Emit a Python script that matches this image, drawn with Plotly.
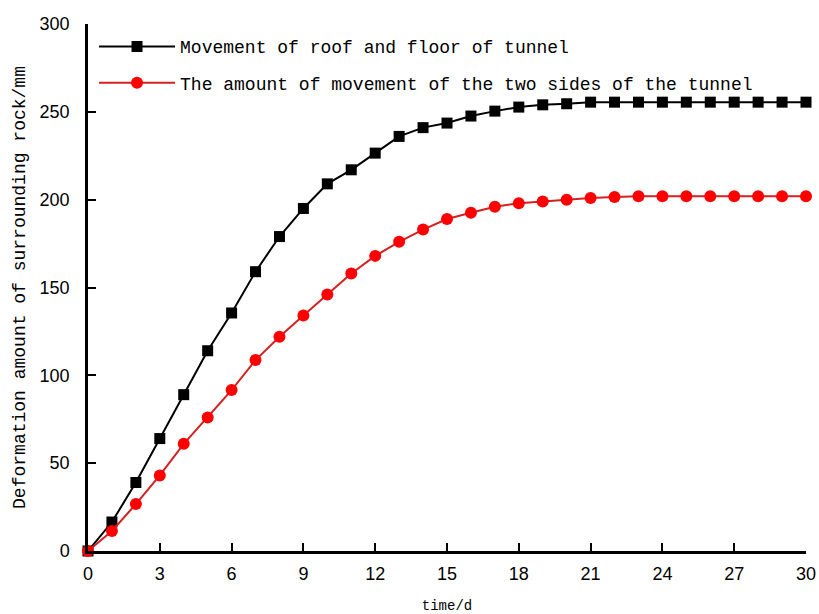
import plotly.graph_objects as go

days = list(range(0, 31))
roof_floor = [0, 16.5, 39, 64, 89, 114, 135.5, 159, 179, 195, 209, 217, 226.5, 236, 241,
              243.6, 247.6, 250.4, 252.7, 254, 254.6, 255.5, 255.5, 255.5, 255.5, 255.5,
              255.5, 255.5, 255.5, 255.5, 255.5]
two_sides = [0, 11.4, 26.7, 43, 61, 76, 91.6, 108.7, 122, 134, 146, 158, 168, 176, 183,
             189, 192.5, 196, 198, 199, 200, 201, 201.5, 202, 202, 202, 202, 202, 202, 202, 202]

name_black = "Movement of roof and floor of tunnel"
name_red = "The amount of movement of the two sides of the tunnel"
x_title = "time/d"
y_title = "Deformation amount of surrounding rock/mm"
x_ticks = list(range(0, 31, 3))
y_ticks = list(range(0, 301, 50))

mono = "Liberation Mono"
sans = "Liberation Sans"

fig = go.Figure()
fig.add_trace(go.Scatter(
    x=days, y=roof_floor, mode="lines+markers", name=name_black, legendgroup="a",
    line=dict(color="black", width=2),
    marker=dict(symbol="square", size=11, color="black"),
    cliponaxis=False,
))
fig.add_trace(go.Scatter(
    x=days, y=two_sides, mode="lines+markers", name=name_red, legendgroup="b",
    line=dict(color="#d42020", width=2),
    marker=dict(symbol="circle", size=12, color="#ff0000"),
    cliponaxis=False,
))

fig.update_layout(
    width=819, height=614,
    margin=dict(l=88, r=13, t=24, b=63),
    paper_bgcolor="white", plot_bgcolor="white",
    showlegend=True,
    legend=dict(x=0.0084, y=0.992, xanchor="left", yanchor="top",
                font=dict(family=mono, size=18, color="black"),
                bgcolor="rgba(0,0,0,0)", tracegroupgap=10, itemwidth=76),
    xaxis=dict(range=[0, 30], tickvals=x_ticks, ticks="inside", ticklen=8, tickwidth=2,
               tickcolor="black", showline=True, linecolor="black", linewidth=2.5,
               showgrid=False, zeroline=False, automargin=False, ticklabelstandoff=5,
               ticklabeloverflow="allow",
               tickfont=dict(family=sans, size=18, color="black"),
               title=dict(text=x_title, font=dict(family=mono, size=14, color="black"), standoff=18)),
    yaxis=dict(range=[0, 300], tickvals=y_ticks, ticks="inside", ticklen=8, tickwidth=2,
               tickcolor="black", showline=True, linecolor="black", linewidth=2.5,
               showgrid=False, zeroline=False, automargin=False, ticklabelstandoff=12,
               tickfont=dict(family=sans, size=18, color="black"),
               title=dict(text=y_title, font=dict(family=mono, size=18, color="black"), standoff=10)),
)

fig.write_html("out.html", config={"displayModeBar": False},
               post_script="document.body.style.margin='0';document.body.style.overflow='hidden';")
